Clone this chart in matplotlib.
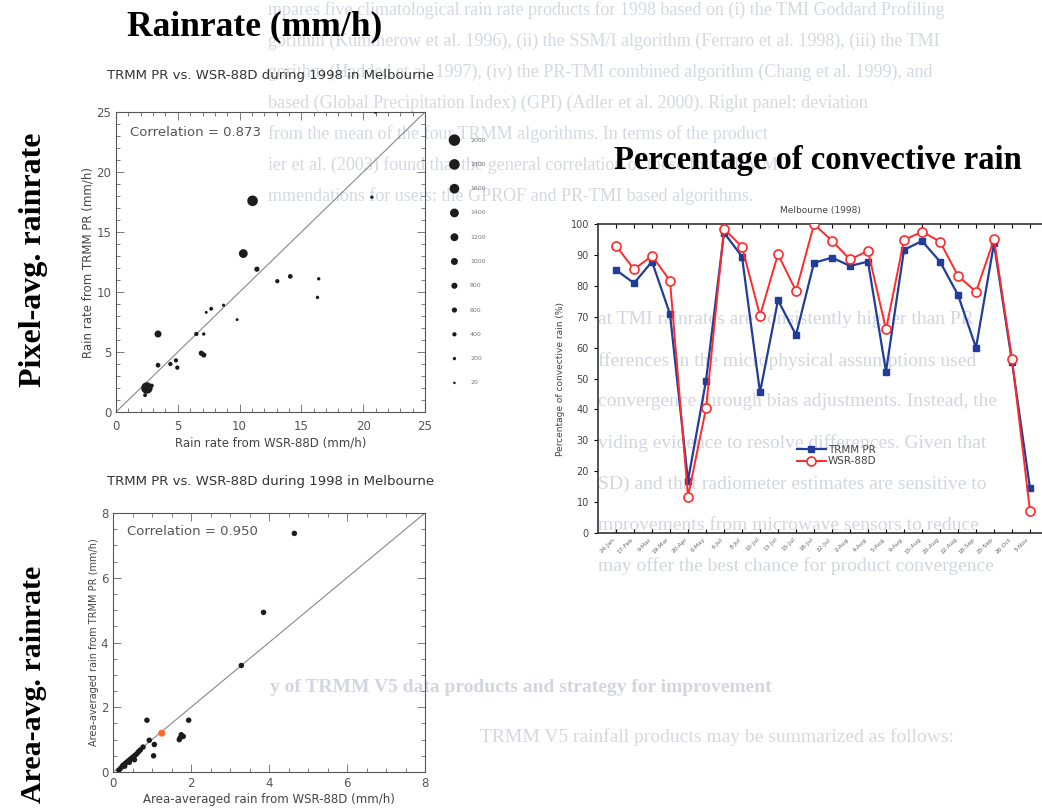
"""Rain-rate comparison slide: TRMM PR vs. WSR-88D over Melbourne, 1998.

Two scatter panels (pixel- and area-averaged rain rate) on the left and the
percentage of convective rain per overpass on the right, laid over a faint
scanned page of text.
"""

import matplotlib
matplotlib.use('Agg')
import matplotlib.pyplot as plt
from matplotlib.ticker import MultipleLocator


W, H = 1042, 808

# pixel-averaged rain rate (mm/h): WSR-88D, TRMM PR and number of pixels
PIX_WSR = [2.5, 2.9, 2.35, 3.4, 3.4, 4.4, 4.85, 4.96, 6.5, 7.1, 6.9, 7.1,
           7.3, 7.7, 8.7, 9.8, 10.3, 11.05, 11.4, 13.05, 14.1, 16.4, 16.3,
           20.7, 21.0]
PIX_PR = [2.0, 2.2, 1.4, 6.5, 3.9, 4.0, 4.3, 3.7, 6.5, 6.5, 4.9, 4.75,
          8.3, 8.6, 8.9, 7.7, 13.2, 17.6, 11.9, 10.9, 11.3, 11.1, 9.55,
          17.9, 25.0]
PIX_COUNT = [2000, 300, 300, 1000, 500, 400, 400, 400, 400, 200, 600, 600,
             100, 300, 150, 100, 1400, 1800, 600, 400, 500, 200, 200,
             200, 200]
SIZE_KEYS = [2000, 1800, 1600, 1400, 1200, 1000, 800, 600, 400, 200, 20]

# area-averaged rain rate (mm/h)
AREA_WSR = [4.65, 3.86, 3.29, 0.87, 1.94, 1.75, 1.7, 1.8, 1.72, 0.93, 1.06,
            1.04, 0.77, 0.15, 0.2, 0.25, 0.3, 0.35, 0.4, 0.45, 0.5, 0.55,
            0.6, 0.65, 0.7, 0.3, 0.42, 0.55]
AREA_PR = [7.37, 4.93, 3.29, 1.6, 1.6, 1.15, 1.0, 1.1, 1.05, 0.98, 0.85,
           0.5, 0.77, 0.05, 0.12, 0.2, 0.25, 0.3, 0.35, 0.4, 0.45, 0.5,
           0.55, 0.62, 0.68, 0.18, 0.3, 0.38]
HIGHLIGHT_WSR = [1.25]
HIGHLIGHT_PR = [1.2]

# percentage of convective rain per overpass
DATES = ['24-Jan', '17-Feb', '9-Mar', '19-Mar', '20-Apr', '6-May', '6-Jul',
         '8-Jul', '10-Jul', '13-Jul', '15-Jul', '18-Jul', '22-Jul', '2-Aug',
         '4-Aug', '5-Aug', '9-Aug', '15-Aug', '20-Aug', '22-Aug', '18-Sep',
         '25-Sep', '26-Oct', '5-Nov']
CONV_PR = [85.2, 80.9, 87.9, 70.9, 16.9, 49.3, 97.3, 89.5, 45.5, 75.4, 64.1,
           87.5, 89.2, 86.5, 87.9, 52.2, 91.7, 94.6, 87.9, 77.1, 60.0, 93.8,
           55.4, 14.4]
CONV_WSR = [93.1, 85.4, 89.8, 81.7, 11.7, 40.3, 98.5, 92.7, 70.4, 90.3, 78.4,
            100.0, 94.7, 88.6, 91.4, 65.9, 94.9, 97.6, 94.4, 83.3, 78.1, 95.1,
            56.3, 7.0]

# faint scanned page behind the slide
PAGE_TOP = [
    'mpares five climatological rain rate products for 1998 based on (i) the TMI Goddard Profiling',
    'gorithm (Kummerow et al. 1996), (ii) the SSM/I algorithm (Ferraro et al. 1998), (iii) the TMI',
    'gorithm (Hadded et al. 1997), (iv) the PR-TMI combined algorithm (Chang et al. 1999), and',
    'based (Global Precipitation Index) (GPI) (Adler et al. 2000). Right panel: deviation',
    'from the mean of the four TRMM algorithms. In terms of the product',
    'ier et al. (2003) found that the general correlation of these four TRMM',
    'mmendations for users: the GPROF and PR-TMI based algorithms.',
]
PAGE_MID = [
    'at TMI rainrates are consistently higher than PR',
    'fferences in the microphysical assumptions used',
    'convergence through bias adjustments. Instead, the',
    'viding evidence to resolve differences. Given that',
    'SD) and that radiometer estimates are sensitive to',
    'mprovements from microwave sensors to reduce',
    'may offer the best chance for product convergence',
]
PAGE_HEAD = 'y of TRMM V5 data products and strategy for improvement'
PAGE_TAIL = 'TRMM V5 rainfall products may be summarized as follows:'


def box(left, top, right, bottom):
    """Axes rectangle in figure fractions from pixel edges."""
    return [left / W, 1 - bottom / H, (right - left) / W, (bottom - top) / H]


def fx(x):
    return x / W


def fy(y):
    return 1 - y / H


def dot_size(count):
    """Marker area (pt^2) for a pixel count: diameter grows linearly."""
    d = 2.5 + 9 * count / 2000.0
    return (d * 0.72) ** 2


def style_idl(ax):
    ax.set_facecolor('none')
    for s in ax.spines.values():
        s.set_color('#555555')
        s.set_linewidth(0.8)
    ax.tick_params(which='both', direction='in', top=True, right=True,
                   colors='#666666', labelcolor='#555555', labelsize=8.5,
                   width=0.6)
    ax.tick_params(which='major', length=6)
    ax.tick_params(which='minor', length=3)


def draw_page(fig):
    for i, line in enumerate(PAGE_TOP):
        fig.text(fx(268), fy(10 + 31 * i), line, family='Liberation Serif',
                 fontsize=13, color='#d6d8e1', va='center', zorder=-1)
    for i, line in enumerate(PAGE_MID):
        fig.text(fx(598), fy(320 + 41 * i), line, family='Liberation Serif',
                 fontsize=14, color='#d3d5df', va='center', zorder=-1)
    fig.text(fx(270), fy(688), PAGE_HEAD, family='Liberation Serif',
             fontsize=14, weight='bold', color='#d3d5df', va='center',
             zorder=-1)
    fig.text(fx(480), fy(737), PAGE_TAIL, family='Liberation Serif',
             fontsize=14, color='#d6d8e1', va='center', zorder=-1)


def pixel_panel(fig):
    ax = fig.add_axes(box(116, 112, 425, 412))
    style_idl(ax)
    ax.plot([0, 25], [0, 25], color='#888888', lw=0.8)
    ax.scatter(PIX_WSR, PIX_PR, s=[dot_size(c) for c in PIX_COUNT],
               color='#1c1c1c', edgecolors='none', zorder=3)
    ax.set_xlim(0, 25)
    ax.set_ylim(0, 25)
    ax.xaxis.set_major_locator(MultipleLocator(5))
    ax.yaxis.set_major_locator(MultipleLocator(5))
    ax.xaxis.set_minor_locator(MultipleLocator(1))
    ax.yaxis.set_minor_locator(MultipleLocator(1))
    ax.tick_params(axis='x', pad=6)
    ax.set_xlabel('Rain rate from WSR-88D (mm/h)', fontsize=8.5,
                  color='#444444', labelpad=2)
    ax.set_ylabel('Rain rate from TRMM PR (mm/h)', fontsize=8.5,
                  color='#444444', labelpad=1)
    ax.text(0.045, 0.93, 'Correlation = 0.873', transform=ax.transAxes,
            fontsize=9.5, color='#555555', va='center')
    fig.text(fx(271), fy(75), 'TRMM PR vs. WSR-88D during 1998 in Melbourne',
             ha='center', va='center', fontsize=9.5, color='#333333')

    # marker-size key to the right of the panel
    key = fig.add_axes(box(444, 128, 500, 395))
    key.axis('off')
    key.set_facecolor('none')
    rows = list(range(len(SIZE_KEYS)))
    key.scatter([0] * len(rows), rows, s=[dot_size(c) for c in SIZE_KEYS],
                color='#1c1c1c', edgecolors='none')
    for r, c in zip(rows, SIZE_KEYS):
        key.text(1.2, r, str(c), fontsize=4.5, color='#777777', va='center')
    key.set_xlim(-0.8, 3.5)
    key.set_ylim(len(rows) - 0.5, -0.5)


def area_panel(fig):
    ax = fig.add_axes(box(113, 513, 425, 772))
    style_idl(ax)
    ax.plot([0, 8], [0, 8], color='#888888', lw=0.8)
    ax.scatter(AREA_WSR, AREA_PR, s=(5.5 * 0.72) ** 2, color='#1c1c1c',
               edgecolors='none', zorder=3)
    ax.scatter(HIGHLIGHT_WSR, HIGHLIGHT_PR, s=(7 * 0.72) ** 2,
               color='#ff6a2a', edgecolors='none', zorder=4)
    ax.set_xlim(0, 8)
    ax.set_ylim(0, 8)
    ax.xaxis.set_major_locator(MultipleLocator(2))
    ax.yaxis.set_major_locator(MultipleLocator(2))
    ax.xaxis.set_minor_locator(MultipleLocator(0.5))
    ax.yaxis.set_minor_locator(MultipleLocator(0.5))
    ax.set_xlabel('Area-averaged rain from WSR-88D (mm/h)', fontsize=8.5,
                  color='#444444', labelpad=2)
    ax.set_ylabel('Area-averaged rain from TRMM PR (mm/h)', fontsize=7,
                  color='#444444', labelpad=1)
    ax.text(0.045, 0.93, 'Correlation = 0.950', transform=ax.transAxes,
            fontsize=9.5, color='#555555', va='center')
    fig.text(fx(271), fy(481), 'TRMM PR vs. WSR-88D during 1998 in Melbourne',
             ha='center', va='center', fontsize=9.5, color='#333333')


def convective_panel(fig):
    ax = fig.add_axes(box(598, 224.3, 1048, 532.7))
    ax.set_facecolor('none')
    x = list(range(len(DATES)))
    ax.plot(x, CONV_PR, color='#1f3d99', lw=1.6, marker='s', ms=4.5,
            label='TRMM PR', zorder=3)
    ax.plot(x, CONV_WSR, color='#ff2a2a', lw=1.4, marker='o', ms=6.5,
            mfc='white', mew=1.2, label='WSR-88D', zorder=4)
    ax.set_xlim(-1, 24)
    ax.set_ylim(0, 100)
    ax.set_xticks(x)
    ax.set_xticklabels(DATES, rotation=45, ha='right', fontsize=4.2,
                       color='#666666')
    ax.yaxis.set_major_locator(MultipleLocator(10))
    ax.tick_params(axis='y', direction='out', length=3, labelsize=7,
                   labelcolor='#444444', width=0.8)
    ax.tick_params(axis='x', direction='in', top=True, length=3, width=0.8,
                   pad=3)
    for s in ax.spines.values():
        s.set_color('#333333')
        s.set_linewidth(1.2)
    ax.set_ylabel('Percentage of convective rain (%)', fontsize=6.5,
                  color='#444444', labelpad=4)
    fig.text(fx(820), fy(210), 'Melbourne (1998)', ha='center', va='center',
             fontsize=6.5, color='#444444')
    ax.legend(loc='center left', bbox_to_anchor=(0.43, 0.25), frameon=False,
              fontsize=7.5, handlelength=2.8, labelspacing=0.15,
              borderpad=0, handletextpad=0.2, labelcolor='#444444')


def make_plot():
    fig = plt.figure(figsize=(W / 100, H / 100), dpi=100)
    fig.patch.set_facecolor('white')
    draw_page(fig)
    pixel_panel(fig)
    area_panel(fig)
    convective_panel(fig)

    serif = dict(family='Liberation Serif', weight='bold', color='black')
    fig.text(fx(255), fy(27), 'Rainrate (mm/h)', ha='center', va='center',
             fontsize=25.5, **serif)
    fig.text(fx(818), fy(160), 'Percentage of convective rain', ha='center',
             va='center', fontsize=23.5, **serif)
    fig.text(fx(34), fy(260), 'Pixel-avg. rainrate', ha='center',
             va='center', rotation=90, fontsize=23, **serif)
    fig.text(fx(34), fy(684), 'Area-avg. rainrate', ha='center',
             va='center', rotation=90, fontsize=21.5, **serif)
    fig.savefig('out.png', dpi=100)


if __name__ == '__main__':
    make_plot()
